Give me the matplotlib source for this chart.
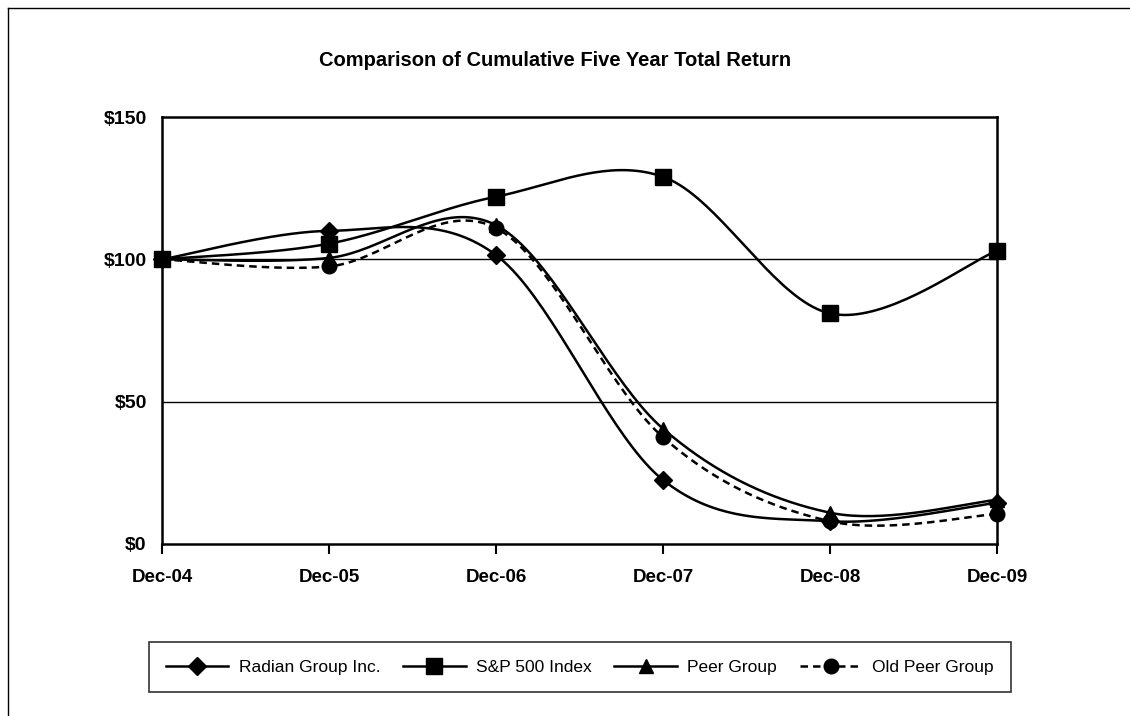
import numpy as np
import matplotlib
matplotlib.use("Agg")
import matplotlib.pyplot as plt
from matplotlib.lines import Line2D

plt.rcParams['font.family'] = ['Liberation Sans', 'DejaVu Sans']

categories = ["Dec-04", "Dec-05", "Dec-06", "Dec-07", "Dec-08", "Dec-09"]
radian = [100, 110, 101.5, 22.5, 8, 14.5]
sp500 = [100, 105.5, 122, 129, 81, 103]
peer = [100, 100.5, 112, 40.5, 11, 15.5]
old_peer = [100, 97.5, 111, 37.5, 8, 10.5]
yticks = [0, 50, 100, 150]
ytick_labels = ["$0", "$50", "$100", "$150"]

series = [
    ("Radian Group Inc.", radian, "D", "-", 9.5),
    ("S&P 500 Index", sp500, "s", "-", 11),
    ("Peer Group", peer, "^", "-", 10.5),
    ("Old Peer Group", old_peer, "o", "--", 10.5),
]


def smooth(xs, ys, n=40):
    pts = np.column_stack([xs, ys]).astype(float)
    ext = np.vstack([pts[0], pts, pts[-1]])
    out = []
    for i in range(len(pts) - 1):
        p0, p1, p2, p3 = ext[i], ext[i + 1], ext[i + 2], ext[i + 3]
        c1 = p1 + (p2 - p0) / 6.0
        c2 = p2 - (p3 - p1) / 6.0
        t = np.linspace(0, 1, n)[:, None]
        b = ((1 - t) ** 3) * p1 + 3 * ((1 - t) ** 2) * t * c1 + 3 * (1 - t) * t ** 2 * c2 + t ** 3 * p2
        out.append(b if i == 0 else b[1:])
    b = np.vstack(out)
    return b[:, 0], b[:, 1]


fig = plt.figure(figsize=(11.3, 7.16), dpi=100)
ax = fig.add_axes([162 / 1130, 1 - 544 / 716, 835 / 1130, 427 / 716])

x = np.arange(len(categories))
handles = []
for name, vals, mk, ls, ms in series:
    sx, sy = smooth(x, vals)
    ax.plot(sx, sy, color="black", lw=1.8, ls=ls, dashes=(3, 2) if ls == "--" else (None, None), zorder=3)
    ax.plot(x, vals, ls="none", marker=mk, color="black", ms=ms, zorder=4, clip_on=False)
    h = Line2D([], [], color="black", lw=1.8, ls=ls, marker=mk, ms=ms)
    if ls == "--":
        h.set_dashes((3, 2))
    handles.append(h)

ax.set_xlim(0, len(categories) - 1)
ax.set_ylim(0, 150)
ax.set_yticks(yticks)
ax.set_yticklabels(ytick_labels, fontsize=14, fontweight="bold")
ax.tick_params(axis="y", length=0, pad=11)
ax.set_xticks(x)
ax.set_xticklabels(categories, fontsize=13.5, fontweight="bold")
ax.tick_params(axis="x", direction="out", length=7, width=1.5, pad=11, color="black")
for v in [50, 100]:
    ax.axhline(v, color="black", lw=1.0, zorder=1)
for s in ax.spines.values():
    s.set_linewidth(1.8)
    s.set_color("black")

fig.text(555 / 1130, 1 - 60 / 716, "Comparison of Cumulative Five Year Total Return",
         ha="center", va="center", fontsize=14.5, fontweight="bold")

leg = fig.legend(handles, [s[0] for s in series], loc="center",
                 bbox_to_anchor=(580 / 1130, 1 - 667 / 716), ncol=4, frameon=True,
                 fontsize=12.5, handlelength=3.6, columnspacing=1.3, handletextpad=0.6,
                 fancybox=False, edgecolor="black", borderpad=1.0)
leg.get_frame().set_linewidth(1.2)

fig.add_artist(Line2D([8 / 1130, 1.0], [1 - 8 / 716, 1 - 8 / 716], color="black", lw=1.0, transform=fig.transFigure))
fig.add_artist(Line2D([8 / 1130, 8 / 1130], [1 - 8 / 716, 0.0], color="black", lw=1.0, transform=fig.transFigure))

fig.savefig("out.png", dpi=100)
